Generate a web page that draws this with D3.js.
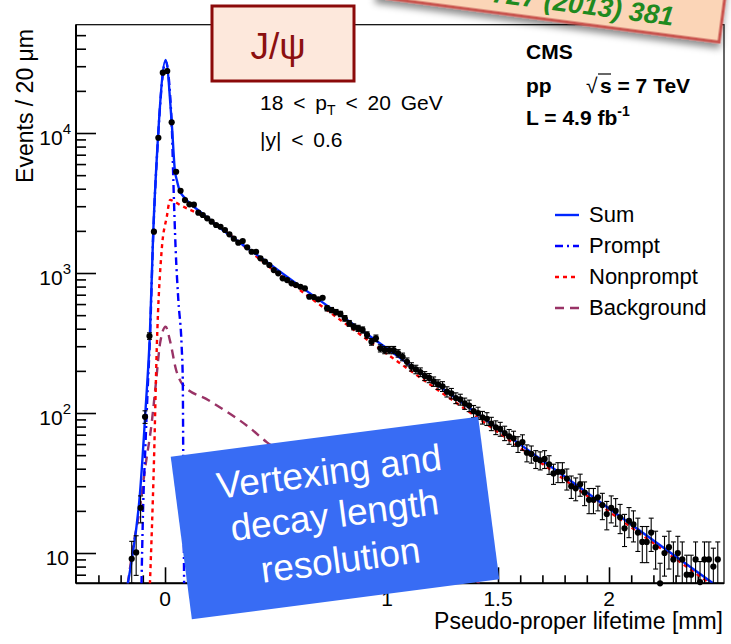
<!DOCTYPE html>
<html><head><meta charset="utf-8">
<script src="https://cdn.jsdelivr.net/npm/d3@7"></script>
<style>
body{margin:0;background:#fff}
text{font-family:"Liberation Sans",Arial,Helvetica,sans-serif}
</style>
</head><body>
<svg id="c" width="731" height="644"></svg>
<script>
// ---------- data ----------
const binCenters = [-0.15,-0.13,-0.11,-0.09,-0.07,-0.05,-0.03,-0.01,
 0.01,0.03,0.05,0.07,0.09,0.11,0.13,0.15,0.17,0.19,0.21,0.23,0.25,0.27,0.29,0.31,0.33,0.35,0.37,0.39,
 0.41,0.43,0.45,0.47,0.49,0.51,0.53,0.55,0.57,0.59,0.61,0.63,0.65,0.67,0.69,0.71,0.73,0.75,0.77,0.79,
 0.81,0.83,0.85,0.87,0.89,0.91,0.93,0.95,0.97,0.99,1.01,1.03,1.05,1.07,1.09,1.11,1.13,1.15,1.17,1.19,
 1.21,1.23,1.25,1.27,1.29,1.31,1.33,1.35,1.37,1.39,1.41,1.43,1.45,1.47,1.49,1.51,1.53,1.55,1.57,1.59,
 1.61,1.63,1.65,1.67,1.69,1.71,1.73,1.75,1.77,1.79,1.81,1.83,1.85,1.87,1.89,1.91,1.93,1.95,1.97,1.99,
 2.01,2.03,2.05,2.07,2.09,2.11,2.13,2.15,2.17,2.19,2.21,2.23,2.25,2.27,2.29,2.31,2.33,2.35,2.37,2.39,
 2.41,2.43,2.45,2.47,2.49];
const events = [9.1,10.1,21,94,355,1973,9250,26980,
 27720,11920,5290,3870,3320,3095,3075,2696,2596,2459,2325,2203,2141,2028,1890,1760,1646,1693,1526,1419,
 1419,1274,1204,1141,1050,995,917,891,844,821,798,778,677,674,649,666,560,544,526,510,
 475,437,413,403,392,361,323,342,290,282,282,282,267,252,232,214,205,196,184,178,
 168,160,155,142,138,128,125,117,113,103,100,93,91,84,79,77,72,68,66,60,
 62,52,51,47,46,47,43,37,38,38,34,30,29,31,27,24,24,25,22,19,
 21,20,18,15,17,16,14,12,12,14,11,6.0,10,11,9,10,9,7,7,9,
 6.2,9,9,8,9];

const sumX = [-0.168,-0.15,-0.113,-0.087,-0.068,-0.053,-0.035,0.003,0.030,0.045,0.053,0.064,0.09,0.158,0.5,1.0,1.5,2.0,2.5];
const sumY = [6.0,8.9,26.5,110,373,1973,7570,33200,11900,5290,4620,3960,3420,2740,1075,289,77.6,20.8,5.6];
const promptX = [-0.106,-0.099,-0.088,-0.078,-0.068,-0.053,-0.035,0.003,0.030,0.0374,0.048,0.060,0.075,0.080,0.082,0.086];
const promptY = [6.0,20,60,150,340,1900,7400,32500,11790,4620,1460,640,297,172,52,6.0];
const nonpromptX = [-0.068,-0.05,-0.037,-0.015,0.008,0.023,0.04,0.068,0.158,0.5,1.0,1.5,2.0,2.5];
const nonpromptY = [6.0,44,297,1460,2524,3330,3250,3060,2620,1015,264,73,19.8,5.4];
const bkgX = [-0.168,-0.14,-0.115,-0.09,-0.06,-0.04,-0.022,0.003,0.022,0.05,0.082,0.194,0.383,0.458,0.9,1.5];
const bkgY = [6.0,12,20,40,85,170,317,414,330,203,158,124,78,62,31,4.4];

const xMajorTicks = [0,0.5,1,1.5,2];
const xMajorLabels = ["0","0.5","1","1.5","2"];
const xMinorTicks = [-0.3,-0.2,-0.1,0.1,0.2,0.3,0.4,0.6,0.7,0.8,0.9,1.1,1.2,1.3,1.4,1.6,1.7,1.8,1.9,2.1,2.2,2.3,2.4];
const yMajorTicks = [10,100,1000,10000];
const yMajorExp = ["","2","3","4"];
const yMinorTicks = [7,8,9,20,30,40,50,60,70,80,90,200,300,400,500,600,700,800,900,
  2000,3000,4000,5000,6000,7000,8000,9000,20000,30000,40000,50000];

const legendLabels = ["Sum","Prompt","Nonprompt","Background"];
const boxLines = ["Vertexing and","decay length","resolution"];

// ---------- drawing ----------
const svg = d3.select("#c");
svg.append("rect").attr("width",731).attr("height",644).attr("fill","#fff");
const L=76,R=724,T=24.7,B=583.3;
const x = d3.scaleLinear().domain([-0.401,2.518]).range([L,R]);
const y = d3.scaleLog().domain([6.077,59380]).range([B,T]);

const defs = svg.append("defs");
defs.append("clipPath").attr("id","pc").append("rect")
  .attr("x",L).attr("y",T).attr("width",R-L).attr("height",B-T);
const f = defs.append("filter").attr("id","sh").attr("x","-20%").attr("y","-50%").attr("width","140%").attr("height","200%");
f.append("feDropShadow").attr("dx",0).attr("dy",5).attr("stdDeviation",3.5)
  .attr("flood-color","#000").attr("flood-opacity",0.45);

// frame
svg.append("rect").attr("x",L).attr("y",T).attr("width",R-L).attr("height",B-T)
  .attr("fill","none").attr("stroke","#000").attr("stroke-width",1.2);

// ticks via d3 axes
const tickStyle = g => { g.select(".domain").remove(); g.selectAll("line").attr("stroke","#000").attr("stroke-width",1.6); };
svg.append("g").attr("transform",`translate(${L},0)`)
  .call(d3.axisLeft(y).tickValues(yMajorTicks).tickSize(-20).tickFormat(""))
  .call(tickStyle);
svg.append("g").attr("transform",`translate(${L},0)`)
  .call(d3.axisLeft(y).tickValues(yMinorTicks).tickSize(-10).tickFormat(""))
  .call(tickStyle);
svg.append("g").attr("transform",`translate(0,${B})`)
  .call(d3.axisBottom(x).tickValues(xMajorTicks).tickSize(-16).tickFormat(""))
  .call(tickStyle);
svg.append("g").attr("transform",`translate(0,${B})`)
  .call(d3.axisBottom(x).tickValues(xMinorTicks).tickSize(-8).tickFormat(""))
  .call(tickStyle);
svg.append("line").attr("x1",L).attr("x2",L).attr("y1",T).attr("y2",B).attr("stroke","#000").attr("stroke-width",2);
svg.append("line").attr("x1",L).attr("x2",R).attr("y1",B).attr("y2",B).attr("stroke","#000").attr("stroke-width",2);

// tick labels
xMajorTicks.forEach((v,i)=>{
  svg.append("text").attr("x",x(v)).attr("y",606).attr("text-anchor","middle")
    .attr("font-size",21).text(xMajorLabels[i]);
});
yMajorTicks.forEach((v,i)=>{
  const t = svg.append("text").attr("x",yMajorExp[i]?71:69).attr("y",y(v)+11.5)
    .attr("text-anchor","end").attr("font-size",21);
  t.append("tspan").text("10");
  if (yMajorExp[i]) t.append("tspan").attr("dy",-11).attr("font-size",15).text(yMajorExp[i]);
});

// axis titles
svg.append("text").attr("x",723).attr("y",629).attr("text-anchor","end").attr("font-size",23)
  .text("Pseudo-proper lifetime [mm]");
svg.append("text").attr("transform","translate(33,29) rotate(-90)").attr("text-anchor","end")
  .attr("font-size",23).text("Events / 20 \u03bcm");

// curves
const plot = svg.append("g").attr("clip-path","url(#pc)");
const lineGen = d3.line().x(d=>x(d[0])).y(d=>y(Math.max(d[1],1))).curve(d3.curveMonotoneX);
const curves = [
  {xs:bkgX, ys:bkgY, color:"#993366", dash:"9,6"},
  {xs:nonpromptX, ys:nonpromptY, color:"#ff0000", dash:"4,4"},
  {xs:promptX, ys:promptY, color:"#0000ff", dash:"8,4,2,4"},
  {xs:sumX, ys:sumY, color:"#0026ff", dash:null}
];
curves.forEach(c=>{
  plot.append("path").datum(c.xs.map((v,i)=>[v,c.ys[i]]))
    .attr("d",lineGen).attr("fill","none").attr("stroke",c.color).attr("stroke-width",2.4)
    .attr("stroke-dasharray",c.dash);
});

// data points with Poisson error bars
const pts = svg.append("g");
binCenters.forEach((cx,i)=>{
  const v = events[i], e = Math.sqrt(v);
  const px = x(cx);
  const yc = Math.min(y(v),B);
  const y1 = Math.min(y(Math.max(v-e,1)),B), y2 = y(v+e);
  pts.append("line").attr("x1",px).attr("x2",px).attr("y1",y1).attr("y2",y2).attr("stroke","#000").attr("stroke-width",1.1);
  if (Math.abs(y1-y2)>5) {
    [y1,y2].forEach(yy=>pts.append("line").attr("x1",px-2.5).attr("x2",px+2.5).attr("y1",yy).attr("y2",yy)
      .attr("stroke","#000").attr("stroke-width",1.1));
  }
  pts.append("circle").attr("cx",px).attr("cy",yc).attr("r",3.1).attr("fill","#000");
});

// annotations
const ann = svg.append("g").attr("font-size",21).attr("word-spacing",4);
const t1 = ann.append("text").attr("x",260).attr("y",110);
t1.append("tspan").text("18 < p");
t1.append("tspan").attr("dy",5).attr("font-size",14).text("T");
t1.append("tspan").attr("dy",-5).text(" < 20 GeV");
ann.append("text").attr("x",260).attr("y",147).text("|y| < 0.6");

const cms = svg.append("g").attr("font-size",21).attr("font-weight","bold");
cms.append("text").attr("x",526).attr("y",59).text("CMS");
cms.append("text").attr("x",526).attr("y",93).text("pp");
cms.append("text").attr("x",586).attr("y",93).attr("font-weight","normal").text("\u221a");
cms.append("text").attr("x",600).attr("y",93).text("s = 7 TeV");
cms.append("line").attr("x1",598).attr("x2",611).attr("y1",74).attr("y2",74).attr("stroke","#000").attr("stroke-width",1.2);
const lum = cms.append("text").attr("x",526).attr("y",125);
lum.append("tspan").text("L = 4.9 fb");
lum.append("tspan").attr("dy",-9).attr("font-size",14).text("-1");

// legend
const leg = svg.append("g");
const legStyles = [curves[3],curves[2],curves[1],curves[0]];
legendLabels.forEach((lab,i)=>{
  const by = 222 + i*31;
  leg.append("line").attr("x1",555).attr("x2",579).attr("y1",by-7).attr("y2",by-7)
    .attr("stroke",legStyles[i].color).attr("stroke-width",2.4).attr("stroke-dasharray",legStyles[i].dash);
  leg.append("text").attr("x",589).attr("y",by).attr("font-size",22).text(lab);
});

// J/psi box
svg.append("rect").attr("x",212).attr("y",6).attr("width",142).attr("height",75)
  .attr("fill","#fde8dc").attr("stroke","#8b0a0a").attr("stroke-width",3);
svg.append("text").attr("x",278).attr("y",59).attr("text-anchor","middle").attr("font-size",37)
  .attr("fill","#8b1010").text("J/\u03c8");

// blue box
const bb = svg.append("g").attr("transform","translate(335,518) rotate(-7.4)");
bb.append("rect").attr("x",-155).attr("y",-82).attr("width",310).attr("height",164).attr("fill","#386cf4");
boxLines.forEach((s,i)=>{
  bb.append("text").attr("x",0).attr("y",[-34,9.5,55][i]).attr("text-anchor","middle")
    .attr("font-size",37).attr("fill","#fff").text(s);
});

// reference stamp
const st = svg.append("g").attr("transform","rotate(7.5,719,42)");
st.append("rect").attr("x",719-345).attr("y",42-90).attr("width",345).attr("height",90)
  .attr("fill","#fbd5b7").attr("stroke","#c9524e").attr("stroke-width",3).attr("filter","url(#sh)");
st.append("text").attr("x",671).attr("y",32).attr("text-anchor","end").attr("font-size",27)
  .attr("font-style","italic").attr("font-weight","bold").attr("fill","#1f8a1f").text("PLB 727 (2013) 381");
</script>
</body></html>
